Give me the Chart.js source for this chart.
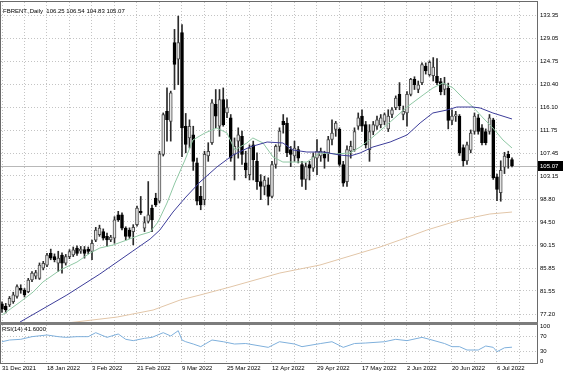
<!DOCTYPE html>
<html>
<head>
<meta charset="utf-8">
<script src="https://cdn.jsdelivr.net/npm/chart.js@4.4.1/dist/chart.umd.min.js"></script>
<style>
  html, body { margin: 0; padding: 0; background: #fff; }
  #wrap { position: relative; width: 564px; height: 376px; overflow: hidden; background: #fff; }
  canvas { position: absolute; left: 0; }
  #main { top: 0; }
  #rsi { top: 322px; }
  #sep { position: absolute; left: 0; top: 322px; width: 538px; height: 3px; background: #7c7c7c; }
  .lbl { position: absolute; font: 6px "Liberation Sans", Arial, sans-serif; color: #000; white-space: pre; }
</style>
</head>
<body>
<div id="wrap">
  <canvas id="main" width="564" height="323"></canvas>
  <canvas id="rsi" width="564" height="54"></canvas>
  <div id="sep"></div>
  <div class="lbl" id="head" style="left:3px;top:8px"></div>
  <div class="lbl" id="rsiHead" style="left:2px;top:326px"></div>
</div>
<script>
// --- daily bars, 31 Dec 2021 .. 12 Jul 2022 (bar index = position on chart)
const open = [79.1,78.7,78.9,79.5,80.5,82.05,81.7,81.4,83.6,84.3,83.9,85.8,86.4,88.6,88.0,86.75,88.3,86.75,88.0,88.3,
  89.6,89.0,89.3,89.4,88.95,91.1,92.1,92.7,91.8,91.15,91.45,95.85,95.85,93.35,93.0,92.7,94.0,96.5,93.35,94.6,
  97.1,99.0,98.4,107.2,115.3,113.4,128.2,125.1,130.1,112.5,110.3,110.9,105.6,99.3,98.7,106.9,109.4,116.6,112.5,117.5,
  115.0,114.1,107.2,109.7,110.6,105.6,103.4,109.0,105.9,102.1,101.2,101.5,99.3,105.3,108.7,113.4,113.1,108.1,106.9,108.1,
  105.3,102.5,105.3,104.6,106.5,106.9,107.2,107.5,110.0,111.9,111.9,105.3,102.1,107.8,108.1,112.5,114.4,112.8,108.1,111.5,
  112.5,112.8,113.4,112.0,114.7,116.0,118.5,114.7,115.0,118.5,121.3,119.4,120.7,123.8,122.2,122.0,121.9,120.9,119.4,119.6,
  113.6,114.4,114.4,108.5,106.0,108.0,111.5,114.1,112.2,111.5,111.5,113.7,103.0,100.0,104.8,107.2,106.25];
const high = [79.5,79.2,80.5,81.3,82.7,82.7,82.0,83.9,85.2,85.4,86.8,87.1,88.6,89.4,88.5,89.0,88.7,88.4,89.3,89.8,
  90.0,89.9,89.9,89.8,91.1,93.5,93.9,93.2,92.4,92.0,95.5,96.5,96.2,93.6,93.4,94.0,97.5,99.3,95.5,102.1,
  97.7,99.9,107.8,115.0,119.7,119.1,130.7,133.2,131.6,114.9,113.7,112.5,106.5,101.2,107.8,109.4,117.5,119.4,119.4,119.7,
  117.5,114.7,110.3,112.2,111.6,107.8,109.0,109.7,107.5,103.4,103.1,102.8,105.9,109.0,112.2,114.7,114.1,108.7,109.7,108.7,
  105.9,105.6,105.9,107.5,110.0,108.4,107.8,110.6,113.7,113.4,112.2,105.9,108.8,109.7,112.2,115.0,115.6,113.4,112.8,113.4,
  114.4,114.7,115.0,115.6,116.0,118.2,120.7,116.3,119.0,121.5,121.8,121.0,124.4,124.4,124.8,125.4,125.2,121.5,121.7,120.6,
  115.6,115.3,114.7,109.0,109.5,111.8,115.0,114.7,112.8,112.0,114.7,114.0,103.5,106.0,107.6,107.8,106.54];
const low = [77.5,77.4,78.6,79.2,80.2,81.1,80.4,81.2,83.3,83.8,83.7,85.5,86.1,87.4,87.0,85.2,84.9,86.4,87.6,88.0,
  88.2,88.6,87.7,88.5,87.4,90.8,91.8,91.1,89.9,90.8,90.5,94.6,93.0,91.1,91.4,90.2,93.7,95.9,92.7,94.3,
  92.7,97.4,98.1,106.9,109.7,109.7,119.4,120.3,106.8,107.5,108.4,104.2,97.7,96.8,97.7,105.9,109.1,112.2,110.6,112.5,
  114.1,105.9,102.4,106.5,105.3,102.8,102.4,102.4,100.6,98.7,99.6,97.7,99.0,104.6,107.8,111.2,106.8,104.9,105.9,105.6,
  101.2,100.6,102.4,104.0,103.4,105.9,104.6,105.9,109.0,110.6,105.0,101.2,101.2,106.5,107.8,111.9,111.5,108.4,105.9,110.9,
  111.9,112.2,112.8,111.5,114.1,115.6,115.6,113.7,112.5,118.2,119.4,118.8,120.3,122.3,121.9,121.0,120.3,118.4,118.4,112.0,
  112.8,113.4,107.0,105.0,105.3,107.5,111.0,111.0,109.0,109.0,111.0,102.5,98.5,98.4,103.6,104.6,104.83];
const close = [78.1,77.95,80.15,80.8,82.35,81.7,80.8,83.6,84.9,85.0,86.4,86.75,88.3,87.7,87.4,87.7,86.75,88.0,88.95,89.25,
  88.6,89.4,88.6,88.95,90.5,93.0,93.35,91.45,91.15,91.65,94.9,94.9,93.35,91.8,91.8,93.5,97.1,96.2,94.4,95.85,
  94.9,97.7,107.3,114.7,113.75,118.8,124.1,128.2,112.2,109.1,112.5,105.9,98.4,97.7,107.2,107.8,116.9,114.4,117.5,112.8,
  116.0,106.5,108.7,110.9,107.2,104.3,108.4,106.2,102.1,101.2,102.4,99.3,105.3,108.7,111.6,112.8,107.5,107.2,108.4,106.5,
  102.5,104.9,104.6,106.8,107.8,107.8,106.5,110.0,111.2,113.1,105.3,101.8,108.1,108.7,111.5,114.1,112.5,109.0,111.5,112.8,
  113.7,114.1,114.7,114.4,115.6,117.8,116.3,115.3,118.5,121.3,120.3,120.3,124.1,122.9,124.5,123.6,120.7,119.0,120.4,113.6,
  114.4,114.7,107.5,106.0,109.0,111.2,114.4,111.5,109.4,109.4,114.1,102.8,100.6,104.2,106.9,106.6,105.07];

// --- moving averages (bar index, price)
const fastMaBars = [0,4.8,8.3,10.9,15.5,20,23.5,26.1,29.6,33.3,36.8,39.5,41.6,44,46.1,48.8,50.9,54.1,57.3,60,
  62.1,65.3,66.9,69.6,72.3,74.9,78.7,81.3,84.8,89.3,92.8,95.5,98.9,103.5,108,112.3,114.9,117.6,120.3,122.9,
  125.6,128.3,130.9,133.6,136];
const fastMaValues = [77.0,79.45,81.33,83.21,85.47,86.97,88.67,89.61,90.17,91.11,92.05,92.61,94.49,98.06,101.83,106.15,109.91,111.23,112.17,111.23,
  108.03,109.35,110.29,109.35,106.71,105.77,105.77,105.77,107.47,107.3,107.47,108.59,110.47,113.29,116.11,118.37,119.69,120.63,119.69,117.81,
  116.11,114.05,112.17,109.91,108.41];
const midMaBars = [4.8,17.3,26.1,34.9,39.5,42.1,45.6,48.8,52.8,57.3,61.6,66.1,70.7,74.9,77.6,81.3,85.6,90.1,92.8,95.5,
  98.9,103.5,108,111.5,114.9,118.7,121.3,125.6,127.5,130.9,136];
const midMaValues = [75.69,80.77,84.72,89.04,91.30,92.99,96.37,99.01,102.01,104.83,107.09,108.59,109.53,109.35,108.03,107.65,107.65,107.09,106.90,107.47,
  108.59,109.53,110.85,113.11,114.99,115.55,116.11,116.11,115.93,114.99,113.86];
const slowMaBars = [17.3,30.7,40.3,47.5,52.8,60.8,74.1,84.8,95.5,100.8,106.1,113.3,122.1,130.1,136];
const slowMaValues = [75.51,76.63,77.95,79.83,80.77,82.27,84.91,86.41,88.67,89.79,91.11,92.99,94.87,96.0,96.37];

// --- RSI(14)
const rsiBars = [0,2,5,8,12,15,17,20,23,25,28,31,33,35,38,40,43,45,47,48,49,51,53,56,59,62,65,71,74,78,
  80,85,88,91,94,97,102,105,108,112,114,118,120,122,124,127,129,131,132,134,136];
const rsiValues = [56,60.5,62.3,69.3,73.7,69.3,67.5,69.3,69.3,79.8,67.5,76.3,62.3,58.8,64.9,67.5,79.8,71.1,85,60.5,56,50,43,60.5,56,50,51.3,41.2,56,50,
  43,51.3,56,41.2,51.3,52.6,56,62.3,58.8,67.5,62.3,51.3,43,43,34.2,34.2,44.7,41.2,29.8,40,41.6];

// --- axes
const dateTickBars = [0,12,24,36,48,60,72,84,96,108,120,132];
const dateTickLabels = ['31 Dec 2021','18 Jan 2022','3 Feb 2022','21 Feb 2022','9 Mar 2022','25 Mar 2022',
  '12 Apr 2022','29 Apr 2022','17 May 2022','2 Jun 2022','20 Jun 2022','6 Jul 2022'];
const gridBars = [0,6,12,18,24,30,36,42,48,54,60,66,72,78,84,90,96,102,108,114,120,126,132,138];
const priceTicks = [133.35,129.05,124.75,120.40,116.10,111.75,107.45,103.15,98.80,94.50,90.15,85.85,81.55,77.20];
const rsiTicks = [100,70,30,0];

const X_MIN = -0.2667, X_MAX = 142.67;
const FONT = { family: '"Liberation Sans", Arial, sans-serif', size: 6 };
const GRID = '#c4c4c4';
const last = close.length - 1;

document.getElementById('head').textContent =
  'FBRENT.,Daily  ' + [open[last], high[last], low[last], close[last]].map(v => v.toFixed(2)).join(' ');
document.getElementById('rsiHead').textContent = 'RSI(14) ' + rsiValues[rsiValues.length - 1].toFixed(4);

const idx = close.map((_, i) => i);
const isUp = idx.map(i => close[i] >= open[i]);
const pts = (xs, ys) => xs.map((x, k) => ({ x: x, y: ys[k] }));

// chart area frame
const frame = {
  id: 'frame',
  afterDraw(chart) {
    const { ctx, chartArea: a } = chart;
    ctx.save();
    ctx.strokeStyle = '#6a6a6a';
    ctx.lineWidth = 1;
    ctx.strokeRect(a.left - 0.5, a.top - 0.5, a.right - a.left + 1, a.bottom - a.top + 1);
    ctx.restore();
  }
};

// bid line + price box
const bid = {
  id: 'bid',
  beforeDatasetsDraw(chart) {
    const { ctx, chartArea: a, scales } = chart;
    const y = Math.round(scales.y.getPixelForValue(close[last])) + 0.5;
    ctx.save();
    ctx.strokeStyle = '#b8b8b8';
    ctx.beginPath(); ctx.moveTo(a.left, y); ctx.lineTo(a.right, y); ctx.stroke();
    ctx.restore();
  },
  afterDraw(chart) {
    const { ctx, chartArea: a, scales } = chart;
    const y = Math.round(scales.y.getPixelForValue(close[last]));
    ctx.save();
    ctx.fillStyle = '#000';
    ctx.fillRect(a.right + 1, y - 5, 25, 10);
    ctx.fillStyle = '#fff';
    ctx.font = '6px "Liberation Sans", Arial, sans-serif';
    ctx.textBaseline = 'middle';
    ctx.fillText(close[last].toFixed(2), a.right + 3, y + 0.5);
    ctx.restore();
  }
};

const zeroPad = s => { s.paddingLeft = 0; s.paddingRight = 0; s.paddingTop = 0; s.paddingBottom = 0; };

new Chart(document.getElementById('main'), {
  type: 'bar',
  data: {
    datasets: [
      { type: 'line', data: pts(slowMaBars, slowMaValues), borderColor: '#e2c6a8', borderWidth: 1, pointRadius: 0, order: 1 },
      { type: 'line', data: pts(midMaBars, midMaValues), borderColor: '#3d3d9a', borderWidth: 1, pointRadius: 0, order: 1 },
      { type: 'line', data: pts(fastMaBars, fastMaValues), borderColor: '#8fc8a4', borderWidth: 1, pointRadius: 0, order: 1 },
      { data: idx.map(i => ({ x: i, y: [open[i], close[i]] })),
        backgroundColor: isUp.map(u => u ? '#e4e4e4' : '#000'),
        borderColor: isUp.map(u => u ? '#4a4a4a' : '#000'),
        borderWidth: 1, borderSkipped: false, barThickness: 3, grouped: false, order: 2 },
      { data: idx.map(i => ({ x: i, y: [low[i], high[i]] })),
        backgroundColor: '#2a2a2a', borderWidth: 0, barThickness: 1, grouped: false, order: 3 }
    ]
  },
  options: {
    responsive: false, animation: false,
    layout: { padding: { left: 1, top: 2, right: 0, bottom: 1 } },
    plugins: { legend: { display: false }, tooltip: { enabled: false } },
    scales: {
      x: {
        type: 'linear', min: X_MIN, max: X_MAX, bounds: 'data', offset: false,
        afterBuildTicks: s => { s.ticks = gridBars.map(v => ({ value: v })); },
        ticks: { display: false },
        grid: { color: GRID, drawTicks: false, offset: false },
        border: { display: false, dash: [1, 2] },
        afterFit: s => { s.height = 0; zeroPad(s); }
      },
      y: {
        position: 'right', min: 75.70, max: 135.85, bounds: 'data',
        afterBuildTicks: s => { s.ticks = priceTicks.map(v => ({ value: v })); },
        ticks: { callback: v => v.toFixed(2), font: FONT, color: '#000', padding: 3 },
        grid: { color: GRID, drawTicks: false },
        border: { display: false, dash: [1, 2] },
        afterFit: s => { s.width = 27; zeroPad(s); }
      }
    }
  },
  plugins: [frame, bid]
});

new Chart(document.getElementById('rsi'), {
  type: 'line',
  data: {
    datasets: [
      { data: pts(rsiBars, rsiValues), borderColor: '#7fb0dc', borderWidth: 1, pointRadius: 0 }
    ]
  },
  options: {
    responsive: false, animation: false,
    layout: { padding: { left: 1, top: 3, right: 0, bottom: 0 } },
    plugins: { legend: { display: false }, tooltip: { enabled: false } },
    scales: {
      x: {
        type: 'linear', min: X_MIN, max: X_MAX, bounds: 'data', offset: false,
        afterBuildTicks: s => { s.ticks = gridBars.map(v => ({ value: v })); },
        ticks: {
          autoSkip: false, maxRotation: 0, align: 'start', padding: 2, font: FONT, color: '#000',
          callback: v => { const k = dateTickBars.indexOf(v); return k < 0 ? '' : dateTickLabels[k]; }
        },
        grid: { color: GRID, drawTicks: false, offset: false },
        border: { display: false, dash: [1, 2] },
        afterFit: s => { s.height = 13; zeroPad(s); }
      },
      y: {
        position: 'right', min: 0, max: 100, bounds: 'data',
        afterBuildTicks: s => { s.ticks = rsiTicks.map(v => ({ value: v })); },
        ticks: {
          font: { family: FONT.family, size: 6, lineHeight: 0.6 }, color: '#000', padding: 3,
          callback: v => v === 100 ? ['', '100'] : (v === 0 ? ['0', ''] : String(v))
        },
        grid: { color: c => (c.tick && (c.tick.value === 0 || c.tick.value === 100)) ? 'rgba(0,0,0,0)' : GRID, drawTicks: false },
        border: { display: false, dash: [1, 2] },
        afterFit: s => { s.width = 27; zeroPad(s); }
      }
    }
  },
  plugins: [frame]
});
</script>
</body>
</html>
